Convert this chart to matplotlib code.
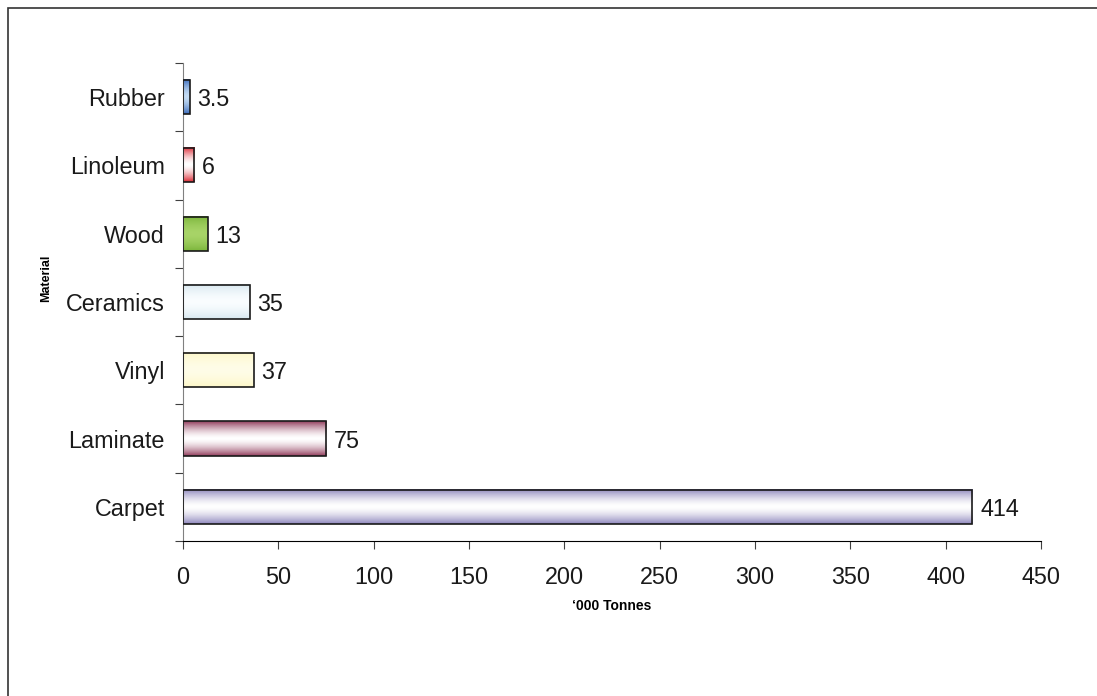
import numpy as np
import matplotlib.pyplot as plt
from matplotlib.colors import to_rgb
from matplotlib.patches import Rectangle

plt.rcParams['font.family'] = ['Liberation Sans', 'DejaVu Sans']

materials = ["Carpet", "Laminate", "Vinyl", "Ceramics", "Wood", "Linoleum", "Rubber"]
tonnes = [414, 75, 37, 35, 13, 6, 3.5]
value_labels = ["414", "75", "37", "35", "13", "6", "3.5"]
x_ticks = [0, 50, 100, 150, 200, 250, 300, 350, 400, 450]

# edge colour / centre colour of each bar's gradient
edge_colors = ["#8f88bd", "#94405f", "#fdf7c8", "#d8e8f0", "#7cb63c", "#dc2c36", "#3c6cbc"]
mid_colors = ["#ffffff", "#ffffff", "#fffde8", "#fafdff", "#a8d468", "#ffffff", "#c4dcf4"]

fs = 16.8

fig = plt.figure(figsize=(10.97, 6.96), dpi=100)
ax = fig.add_axes([0.1668, 0.2227, 0.7822, 0.6868])

bar_h = 0.5
n = 64
t = np.abs(np.linspace(-1, 1, n))[:, None]
for i, (v, e, m) in enumerate(zip(tonnes, edge_colors, mid_colors)):
    e, m = np.array(to_rgb(e)), np.array(to_rgb(m))
    grad = (m + (e - m) * t[..., None] ** 1.6).reshape(n, 1, 3)
    ax.imshow(grad, extent=(0, v, i - bar_h / 2, i + bar_h / 2),
              aspect='auto', origin='lower', interpolation='bilinear', zorder=2)
    ax.text(v + 4, i, value_labels[i], va='center_baseline', ha='left',
            fontsize=fs, color='#1a1a1a')

ax.barh(range(len(materials)), tonnes, height=bar_h, fill=False,
        edgecolor='#1a1a1a', linewidth=1.2, zorder=3)

ax.set_xlim(0, 450)
ax.set_ylim(-0.5, len(materials) - 0.5)
ax.set_xticks(x_ticks)
ax.set_xticklabels([str(x) for x in x_ticks], fontsize=fs, color='#1a1a1a')
ax.set_yticks(np.arange(-0.5, len(materials), 1))
ax.set_yticklabels([])
ax.set_yticks(range(len(materials)), minor=True)
ax.set_yticklabels(materials, minor=True, fontsize=fs, color='#1a1a1a')
ax.tick_params(axis='y', which='major', length=6, color='#404040')
ax.tick_params(axis='y', which='minor', length=0, pad=13)
ax.tick_params(axis='x', length=6, pad=12, color='#404040')

for s in ['top', 'right']:
    ax.spines[s].set_visible(False)
ax.spines['left'].set_color('#808080')
ax.spines['bottom'].set_color('#000000')

ax.set_xlabel("\u2018000 Tonnes", fontsize=10, fontweight='bold')
ax.xaxis.set_label_coords(0.5, -0.121)
ax.set_ylabel("Material", fontsize=9, fontweight='bold')
ax.yaxis.set_label_coords(-0.153, 0.55)

# outer frame
fig.patches.append(Rectangle((8 / 1097, -0.1), 1.2, 1.1 - 8 / 696,
                             transform=fig.transFigure, fill=False,
                             edgecolor='#333333', linewidth=1.2))

fig.savefig("out.png", dpi=100)
